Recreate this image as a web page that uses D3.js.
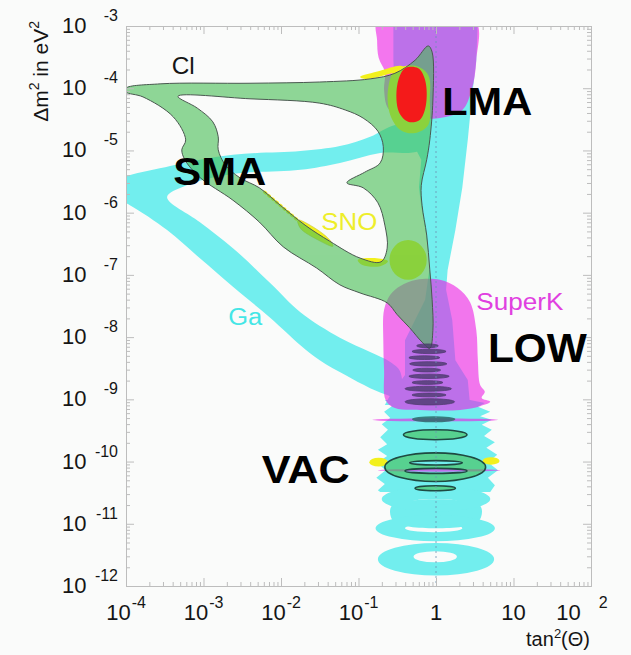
<!DOCTYPE html>
<html><head><meta charset="utf-8">
<script src="https://cdn.jsdelivr.net/npm/d3@7"></script>
<style>
html,body{margin:0;padding:0;background:#f9faf9;}
svg{display:block;font-family:"Liberation Sans",Arial,Helvetica,sans-serif;}
</style></head><body>
<svg id="chart" width="631" height="655"></svg>
<script>
// Every contour point is [log10 tan²θ, log10 (Δm² / eV²)]

// Ga (gallium) allowed region
const gaArms = [[-4.21,-5.54],[-3.43,-5.25],[-2.62,-5.07],[-1.75,-5.01],[-1.24,-4.93],[-0.85,-4.78],[-0.53,-4.59],[-0.21,-4.59],[-0.21,-4.99],[-0.72,-5.04],[-1.24,-5.20],[-1.75,-5.31],[-2.62,-5.38],[-3.24,-5.57],[-3.47,-5.75],[-3.05,-6.15],[-2.62,-6.57],[-2.14,-7.13],[-1.75,-7.60],[-1.24,-8.01],[-0.85,-8.24],[-0.59,-8.40],[-0.46,-8.56],[-0.46,-9.01],[-0.59,-8.95],[-0.85,-8.82],[-1.17,-8.61],[-1.50,-8.37],[-1.75,-8.13],[-2.14,-7.69],[-2.62,-7.19],[-3.05,-6.73],[-3.47,-6.28],[-3.95,-5.88],[-4.21,-5.73]];
const gaBand = [[-0.55,-2.90],[0.54,-2.90],[0.52,-3.55],[0.46,-4.19],[0.41,-4.83],[0.34,-5.59],[0.25,-6.28],[0.15,-6.92],[0.13,-7.24],[0.21,-7.73],[0.25,-8.37],[0.41,-8.69],[0.44,-9.09],[-0.66,-9.09],[-0.59,-8.93],[-0.40,-8.61],[-0.40,-8.05],[-0.14,-7.40],[-0.08,-6.87],[-0.13,-6.33],[-0.19,-5.91],[-0.22,-5.59],[-0.19,-5.15],[-0.46,-4.51],[-0.53,-4.19],[-0.55,-3.55]];
const gaVac = [[-0.72,-9.01],[0.44,-9.01],[0.63,-9.06],[0.54,-9.12],[0.70,-9.20],[0.57,-9.27],[0.72,-9.33],[0.59,-9.41],[0.72,-9.49],[0.62,-9.59],[0.76,-9.69],[0.65,-9.78],[0.79,-9.89],[0.67,-10.01],[0.80,-10.14],[0.67,-10.26],[0.76,-10.38],[0.70,-10.49],[-0.72,-10.49],[-0.75,-10.46],[-0.66,-10.36],[-0.77,-10.26],[-0.65,-10.14],[-0.76,-10.02],[-0.63,-9.91],[-0.75,-9.81],[-0.63,-9.72],[-0.72,-9.61],[-0.62,-9.49],[-0.70,-9.40],[-0.59,-9.30],[-0.67,-9.20],[-0.57,-9.11],[-0.66,-9.01]];
const gaNeck = [[-0.57,-10.71],[0.57,-10.71],[0.54,-10.97],[-0.54,-10.97]];
// rings: [centre lx, centre ly, half-width, half-height] for outer edge and hole
const gaRings = [
  {outer:[0.00,-10.60,0.70,0.20], hole:[-0.01,-10.65,0.30,0.05]},
  {outer:[-0.01,-11.07,0.77,0.21], hole:[-0.03,-11.07,0.37,0.065]},
  {outer:[0.00,-11.57,0.75,0.26], hole:[-0.01,-11.53,0.28,0.09]}
];

// Super-Kamiokande day/night exclusion
const skLma = [[-0.75,-2.90],[0.50,-2.90],[0.52,-3.55],[0.46,-4.03],[0.34,-4.35],[0.05,-4.48],[-0.21,-4.48],[-0.46,-4.45],[-0.62,-4.32],[-0.67,-4.03],[-0.66,-3.74],[-0.74,-3.51],[-0.76,-3.23]];
const skLow = [[-0.67,-7.56],[-0.59,-7.32],[-0.46,-7.18],[-0.25,-7.08],[0.05,-7.08],[0.28,-7.21],[0.44,-7.44],[0.52,-7.89],[0.54,-8.37],[0.57,-8.77],[0.63,-8.88],[0.59,-8.98],[0.70,-9.04],[0.57,-9.11],[0.31,-9.17],[-0.21,-9.17],[-0.53,-9.14],[-0.65,-9.01],[-0.67,-8.53],[-0.68,-8.05]];
const skStripes = [[-0.01,-9.33,0.81,0.025],[0.04,-10.14,0.79,0.022]];

// SNO allowed patches
const snoLmaTop = [[-0.98,-3.82],[-0.72,-3.72],[-0.46,-3.64],[-0.40,-3.68],[-0.66,-3.79],[-0.92,-3.85]];
const snoLma = [[-0.53,-3.71],[-0.27,-3.64],[-0.10,-3.79],[-0.08,-4.19],[-0.10,-4.59],[-0.27,-4.72],[-0.46,-4.67],[-0.59,-4.43],[-0.62,-4.03]];
const snoLowBlob = [-0.36,-6.76,0.24,0.32];
const snoEdge = [[-1.01,-6.76],[-0.79,-6.73],[-0.62,-6.78],[-0.72,-6.86],[-0.95,-6.84]];
const snoSma = [[-1.78,-6.12],[-1.56,-6.25],[-1.37,-6.44],[-1.33,-6.54],[-1.52,-6.44],[-1.75,-6.25]];
const snoSmaDots = [[-2.21,-5.67],[-1.73,-6.18]];
const snoVac = [[-0.74,-10.01,0.12,0.07],[0.71,-9.99,0.11,0.06]];

// Chlorine allowed region (outer contour and enclosed hole)
const clOuter = [[-4.00,-4.00],[-3.56,-3.93],[-2.40,-3.92],[-1.50,-3.90],[-0.85,-3.85],[-0.53,-3.76],[-0.27,-3.55],[-0.10,-3.32],[-0.05,-3.42],[-0.04,-4.19],[-0.08,-4.83],[-0.12,-5.15],[-0.19,-5.56],[-0.18,-5.88],[-0.12,-6.36],[-0.08,-6.92],[-0.05,-7.40],[-0.04,-7.89],[-0.08,-8.18],[-0.18,-8.08],[-0.34,-7.85],[-0.50,-7.64],[-0.63,-7.45],[-0.98,-7.29],[-1.24,-7.16],[-1.54,-6.89],[-1.97,-6.55],[-2.28,-6.15],[-2.62,-5.80],[-3.05,-5.43],[-3.24,-5.15],[-3.28,-4.99],[-3.23,-4.83],[-3.39,-4.46],[-3.78,-4.14],[-4.00,-4.06]];
const clHole = [[-3.33,-4.13],[-2.40,-4.17],[-1.50,-4.24],[-1.17,-4.35],[-0.94,-4.48],[-0.75,-4.69],[-0.68,-4.94],[-0.72,-5.20],[-0.92,-5.35],[-1.15,-5.52],[-0.94,-5.60],[-0.75,-5.84],[-0.66,-6.20],[-0.63,-6.57],[-0.71,-6.79],[-0.98,-6.73],[-1.37,-6.46],[-1.69,-6.20],[-2.01,-5.88],[-2.28,-5.60],[-2.53,-5.44],[-2.72,-5.23],[-2.81,-4.99],[-2.81,-4.78],[-2.88,-4.54],[-3.08,-4.32]];
const clLowIslands = [[-0.11,-8.14,0.14,0.03],[-0.09,-8.23,0.22,0.035],[-0.15,-8.33,0.20,0.03],[-0.10,-8.43,0.24,0.035],[-0.12,-8.53,0.18,0.03],[-0.09,-8.63,0.26,0.035],[-0.11,-8.73,0.20,0.03],[-0.10,-8.83,0.30,0.04],[-0.09,-8.93,0.22,0.03],[-0.08,-9.04,0.32,0.05]];
const clTealIsland = [-0.03,-9.32,0.28,0.05];
const clVacIslands = [
  {outer:[-0.01,-9.57,0.41,0.08], holes:[]},
  {outer:[-0.01,-10.09,0.65,0.23], holes:[[0.00,-10.02,0.34,0.035],[0.00,-10.15,0.40,0.04]]},
  {outer:[-0.01,-10.43,0.26,0.04], holes:[]}
];

// Global best fit (LMA)
const lmaBest = [[-0.40,-3.68],[-0.23,-3.68],[-0.14,-3.87],[-0.13,-4.27],[-0.21,-4.51],[-0.36,-4.54],[-0.48,-4.38],[-0.50,-3.95]];

// Axis ticks
const xDecades = [-4,-3,-2,-1,0,1,2];
const yDecades = [-3,-4,-5,-6,-7,-8,-9,-10,-11,-12];
const xTickLabels = [
  {v:1e-4,b:"10",e:"-4"},{v:1e-3,b:"10",e:"-3"},{v:1e-2,b:"10",e:"-2"},
  {v:1e-1,b:"10",e:"-1"},{v:1,b:"1",e:""},{v:10,b:"10",e:""},{v:100,b:"10",e:"2"}
];

const W = 631, H = 655;
const margin = {left:126, right:40, top:26, bottom:69};
const x = d3.scaleLog().domain([1e-4,1e2]).range([margin.left, W - margin.right]);
const y = d3.scaleLog().domain([1e-3,1e-12]).range([margin.top, H - margin.bottom]);
const px = p => [x(Math.pow(10,p[0])), y(Math.pow(10,p[1]))];

const svg = d3.select("#chart");
svg.append("rect").attr("width",W).attr("height",H).attr("fill","#fafbfa");

svg.append("defs").append("clipPath").attr("id","plotClip")
  .append("rect").attr("x",x.range()[0]).attr("y",y.range()[0])
  .attr("width",x.range()[1]-x.range()[0]).attr("height",y.range()[1]-y.range()[0]);

const smooth = d3.line().curve(d3.curveCatmullRomClosed.alpha(0.5));
const sharp = d3.line().curve(d3.curveLinearClosed);
const shapePath = (pts, gen) => gen(pts.map(px));
function ellipsePath(e){
  const [cx, cy] = px([e[0], e[1]]);
  const rx = x(Math.pow(10, e[0] + e[2])) - cx;
  const ry = y(Math.pow(10, e[1] - e[3])) - cy;
  return `M${cx-rx},${cy}A${rx},${ry} 0 1,0 ${cx+rx},${cy}A${rx},${ry} 0 1,0 ${cx-rx},${cy}Z`;
}

const plot = svg.append("g").attr("clip-path","url(#plotClip)");

// Ga
const ga = plot.append("g").attr("fill","#72eeee");
ga.append("path").attr("d", shapePath(gaArms, smooth));
ga.append("path").attr("d", shapePath(gaBand, sharp));
ga.append("path").attr("d", shapePath(gaVac, sharp));
ga.append("path").attr("d", shapePath(gaNeck, smooth));
ga.selectAll("path.ring").data(gaRings).join("path").attr("class","ring")
  .attr("fill-rule","evenodd")
  .attr("d", r => ellipsePath(r.outer) + ellipsePath(r.hole));

// SuperK
const sk = plot.append("g").attr("fill","#ee1ee6").attr("opacity",0.6);
sk.append("path").attr("d", shapePath(skLma, smooth));
sk.append("path").attr("d", shapePath(skLow, smooth));
sk.selectAll("path.stripe").data(skStripes).join("path").attr("class","stripe").attr("d", ellipsePath);

// SNO
const sno = plot.append("g").attr("fill","#f2f01c");
sno.append("path").attr("d", shapePath(snoLmaTop, smooth));
sno.append("path").attr("d", shapePath(snoLma, smooth));
sno.append("path").attr("d", ellipsePath(snoLowBlob));
sno.append("path").attr("d", shapePath(snoEdge, smooth));
sno.append("path").attr("d", shapePath(snoSma, smooth)).attr("stroke","#c8c040").attr("stroke-width",0.6);
sno.selectAll("path.vac").data(snoVac).join("path").attr("class","vac").attr("d", ellipsePath);
plot.append("path").attr("d", d3.line()(snoSmaDots.map(px)))
  .attr("stroke","#f2ea1c").attr("stroke-width",3.2).attr("stroke-dasharray","1.5,3.5").attr("stroke-linecap","round");

// Cl
const clD = shapePath(clOuter, smooth) + shapePath(clHole, smooth);
const cl = plot.append("g").attr("fill","#46be53").attr("opacity",0.6);
cl.append("path").attr("fill-rule","evenodd").attr("d", clD);
cl.selectAll("path.isl").data(clVacIslands).join("path").attr("class","isl")
  .attr("fill-rule","evenodd")
  .attr("d", d => ellipsePath(d.outer) + d.holes.map(ellipsePath).join(""));
plot.append("path").attr("d", clD).attr("fill","none").attr("stroke","#4a5850").attr("stroke-width",1);
plot.selectAll("path.islOut").data(clVacIslands).join("path").attr("class","islOut")
  .attr("fill","none").attr("stroke","#1f4a42").attr("stroke-width",1.6)
  .attr("d", d => ellipsePath(d.outer) + d.holes.map(ellipsePath).join(""));
plot.selectAll("path.low").data(clLowIslands).join("path").attr("class","low")
  .attr("d", ellipsePath).attr("fill","#4b3b6e").attr("opacity",0.8)
  .attr("stroke","#3a2e58").attr("stroke-width",0.8);
plot.append("path").attr("d", ellipsePath(clTealIsland)).attr("fill","#2d6a6a").attr("opacity",0.85);

// LMA best fit
plot.append("path").attr("d", shapePath(lmaBest, smooth)).attr("fill","#f41a1a");

// maximal mixing guide
plot.append("line").attr("x1",x(1)).attr("x2",x(1)).attr("y1",y.range()[0]).attr("y2",y.range()[1])
  .attr("stroke","#6d92b4").attr("stroke-width",1).attr("stroke-dasharray","2,3").attr("opacity",0.8);

// Axes and ticks
const axCol = "#bdbdbd";
const minor = (decs) => { const v=[]; decs.slice(0,-1).forEach(d => { for (let k=2;k<10;k++) v.push(k*Math.pow(10,d)); }); return v; };
const xMaj = xDecades.map(d => Math.pow(10,d)), xMin = minor(xDecades);
const yDecAsc = yDecades.slice().reverse();
const yMaj = yDecades.map(d => Math.pow(10,d)), yMin = minor(yDecAsc);
const styleAxis = g => { g.selectAll("path,line").attr("stroke",axCol); g.selectAll("text").remove(); };
const x0 = x.range()[0], x1 = x.range()[1], y0 = y.range()[0], y1 = y.range()[1];
const axes = [
  [d3.axisBottom(x), `translate(0,${y1})`, xMaj, xMin],
  [d3.axisTop(x), `translate(0,${y0})`, xMaj, xMin],
  [d3.axisLeft(y), `translate(${x0},0)`, yMaj, yMin],
  [d3.axisRight(y), `translate(${x1},0)`, yMaj, yMin]
];
axes.forEach(([ax, tr, maj, mn]) => {
  svg.append("g").attr("transform",tr).call(ax.tickValues(mn).tickSize(-4).tickSizeOuter(0).tickFormat("")).call(styleAxis);
  svg.append("g").attr("transform",tr).call(ax.tickValues(maj).tickSize(-8).tickSizeOuter(0).tickFormat("")).call(styleAxis);
});

// Tick labels
const txtCol = "#151515";
yDecades.forEach(d => {
  const yy = y(Math.pow(10,d));
  svg.append("text").attr("x",62).attr("y",yy+7).attr("font-size",22).attr("fill",txtCol).text("10");
  svg.append("text").attr("x",118).attr("y",yy-5).attr("font-size",16).attr("text-anchor","end").attr("fill",txtCol).text(String(d));
});
xTickLabels.forEach(t => {
  const pos = t.e && !t.e.startsWith("-");
  const tx = svg.append("text").attr("x", x(t.v) + (pos ? -9 : 0)).attr("y",620)
    .attr("font-size",22).attr("text-anchor","middle").attr("fill",txtCol);
  tx.append("tspan").text(t.b);
  if (t.e) tx.append("tspan").attr("dy",-12).attr("dx", pos ? 18 : 1).attr("font-size",16).text(t.e);
});

// Axis titles
const xt = svg.append("text").attr("x",590).attr("y",646).attr("font-size",20).attr("text-anchor","end").attr("fill",txtCol);
xt.append("tspan").text("tan");
xt.append("tspan").attr("dy",-8).attr("font-size",13).text("2");
xt.append("tspan").attr("dy",8).text("(Θ)");
const yt = svg.append("text").attr("transform","translate(48,21) rotate(-90)").attr("font-size",21)
  .attr("text-anchor","end").attr("fill",txtCol);
yt.append("tspan").text("Δm");
yt.append("tspan").attr("dy",-9).attr("font-size",14).text("2");
yt.append("tspan").attr("dy",9).text(" in eV");
yt.append("tspan").attr("dy",-9).attr("font-size",14).text("2");

// Region labels (anchored in data coordinates)
const lab = (s, lx, ly, size, weight, col, len) => {
  const [tx, ty] = px([lx, ly]);
  const t = svg.append("text").attr("x",tx).attr("y",ty).attr("font-size",size)
    .attr("font-weight",weight).attr("fill",col).text(s);
  if (len) t.attr("textLength",len).attr("lengthAdjust","spacingAndGlyphs");
};
lab("Cl", -3.41, -3.77, 24, "normal", "#151515", 23);
lab("SMA", -3.39, -5.56, 39, "bold", "#000", 93);
lab("LMA", 0.08, -4.43, 39, "bold", "#000", 90);
lab("SNO", -1.48, -6.28, 23, "normal", "#eeee2a", 56);
lab("SuperK", 0.52, -7.56, 23, "normal", "#e040e0", 87);
lab("Ga", -2.68, -7.81, 23, "normal", "#44e6e6", 34);
lab("LOW", 0.67, -8.40, 40, "bold", "#000", 99);
lab("VAC", -2.25, -10.34, 39, "bold", "#000", 88);
</script>
</body></html>
